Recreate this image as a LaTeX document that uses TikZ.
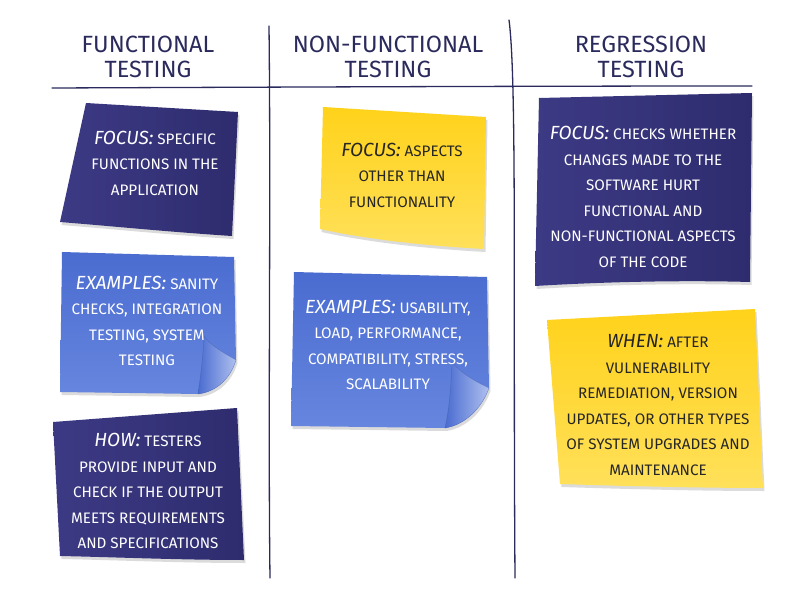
\documentclass[tikz,border=0pt]{standalone}
\usepackage{fontspec}
\setmainfont{Fira Sans}
\usetikzlibrary{shadows}
\definecolor{navy}{HTML}{2E2C6E}
\definecolor{navylight}{HTML}{3D3A85}
\definecolor{ink}{HTML}{2B2A5C}
\definecolor{bluenote}{HTML}{4A6CD0}
\definecolor{bluelight}{HTML}{6D8CE2}
\definecolor{yellownote}{HTML}{FFD21A}
\definecolor{yellowlight}{HTML}{FFE05A}
\tikzset{
  rule/.style={draw=ink, line width=1.3pt, line cap=round},
  header/.style={text=ink, align=center, font=\fontsize{23.5}{25}\selectfont},
  notetext/.style={align=center, font=\fontsize{15.2}{25.5}\selectfont},
  darktext/.style={notetext, text=white},
  lighttext/.style={notetext, text=black!85},
  noteshadow/.style={drop shadow={opacity=0.28, shadow xshift=1.5pt, shadow yshift=-3pt}},
  curl/.style={left color=bluenote, right color=bluelight!55!white, draw=bluenote!70!black, draw opacity=0.35, line width=0.5pt},
}
\newcommand{\lead}[1]{{\fontsize{19}{25.5}\selectfont\itshape #1}}
\begin{document}
\begin{tikzpicture}[x=1pt,y=-1pt]
\useasboundingbox[fill=white] (0,0) rectangle (801,612);

% rules
\draw[rule] (52,88) .. controls (300,87) and (550,86) .. (752,86);
\draw[rule] (269,26) .. controls (271,200) and (268,420) .. (270,578);
\draw[rule] (509,20) .. controls (517,80) and (513,300) .. (515,578);

% headers
\node[header] (h1) at (148,57) {FUNCTIONAL\\TESTING};
\node[header] (h2) at (388,57) {NON-FUNCTIONAL\\TESTING};
\node[header] (h3) at (641,57) {REGRESSION\\TESTING};

% note 1 navy
\shade[noteshadow, left color=navylight, right color=navy]
  (86,103) -- (238,112) -- (232,236) .. controls (170,232) and (110,226) .. (60,222) -- cycle;
% note 2 blue, curled
\shade[noteshadow, top color=bluenote, bottom color=bluelight!80!bluenote]
  (62,252) -- (234,257) -- (236,360) .. controls (230,380) and (215,392) .. (198,394) -- (60,392) -- cycle;
\shade[curl] (236,360) .. controls (222,352) and (210,345) .. (204,336)
  .. controls (203,360) and (200,380) .. (198,394) .. controls (215,392) and (230,380) .. (236,360) -- cycle;
% note 3 navy
\shade[noteshadow, left color=navylight, right color=navy]
  (53,422) -- (237,408) -- (244,560) .. controls (180,560) and (110,557) .. (60,556) -- cycle;
% note 4 yellow
\shade[noteshadow, top color=yellownote, bottom color=yellowlight]
  (323,107) -- (486,117) -- (484,249) .. controls (430,246) and (370,240) .. (320,229) -- cycle;
% note 5 blue, curled
\shade[noteshadow, top color=bluenote, bottom color=bluelight!80!bluenote]
  (294,272) -- (487,277) -- (489,388) .. controls (482,408) and (465,425) .. (445,428) -- (291,426) -- cycle;
\shade[curl] (489,388) .. controls (472,380) and (460,372) .. (452,362)
  .. controls (451,390) and (449,410) .. (445,428) .. controls (465,425) and (482,408) .. (489,388) -- cycle;
% note 6 navy
\shade[noteshadow, left color=navylight, right color=navy]
  (539,98) -- (752,93) -- (750,282) .. controls (680,280) and (600,282) .. (535,286) -- cycle;
% note 7 yellow
\shade[noteshadow, top color=yellownote, bottom color=yellowlight]
  (547,320) -- (755,309) -- (763,488) .. controls (700,488) and (620,486) .. (560,484) -- cycle;

% texts
\node[darktext] (t1) at (155,163) {\lead{FOCUS:} SPECIFIC\\FUNCTIONS IN THE\\APPLICATION};
\node[darktext] (t2) at (147,321) {\lead{EXAMPLES:} SANITY\\CHECKS, INTEGRATION\\TESTING, SYSTEM\\TESTING};
\node[darktext] (t3) at (148,491) {\lead{HOW:} TESTERS\\PROVIDE INPUT AND\\CHECK IF THE OUTPUT\\MEETS REQUIREMENTS\\AND SPECIFICATIONS};
\node[lighttext] (t4) at (402,175) {\lead{FOCUS:} ASPECTS\\OTHER THAN\\FUNCTIONALITY};
\node[darktext] (t5) at (388,345) {\lead{EXAMPLES:} USABILITY,\\LOAD, PERFORMANCE,\\COMPATIBILITY, STRESS,\\SCALABILITY};
\node[darktext] (t6) at (643,197) {\lead{FOCUS:} CHECKS WHETHER\\CHANGES MADE TO THE\\SOFTWARE HURT\\FUNCTIONAL AND\\NON-FUNCTIONAL ASPECTS\\OF THE CODE};
\node[lighttext] (t7) at (658,405) {\lead{WHEN:} AFTER\\VULNERABILITY\\REMEDIATION, VERSION\\UPDATES, OR OTHER TYPES\\OF SYSTEM UPGRADES AND\\MAINTENANCE};
\end{tikzpicture}
\end{document}
